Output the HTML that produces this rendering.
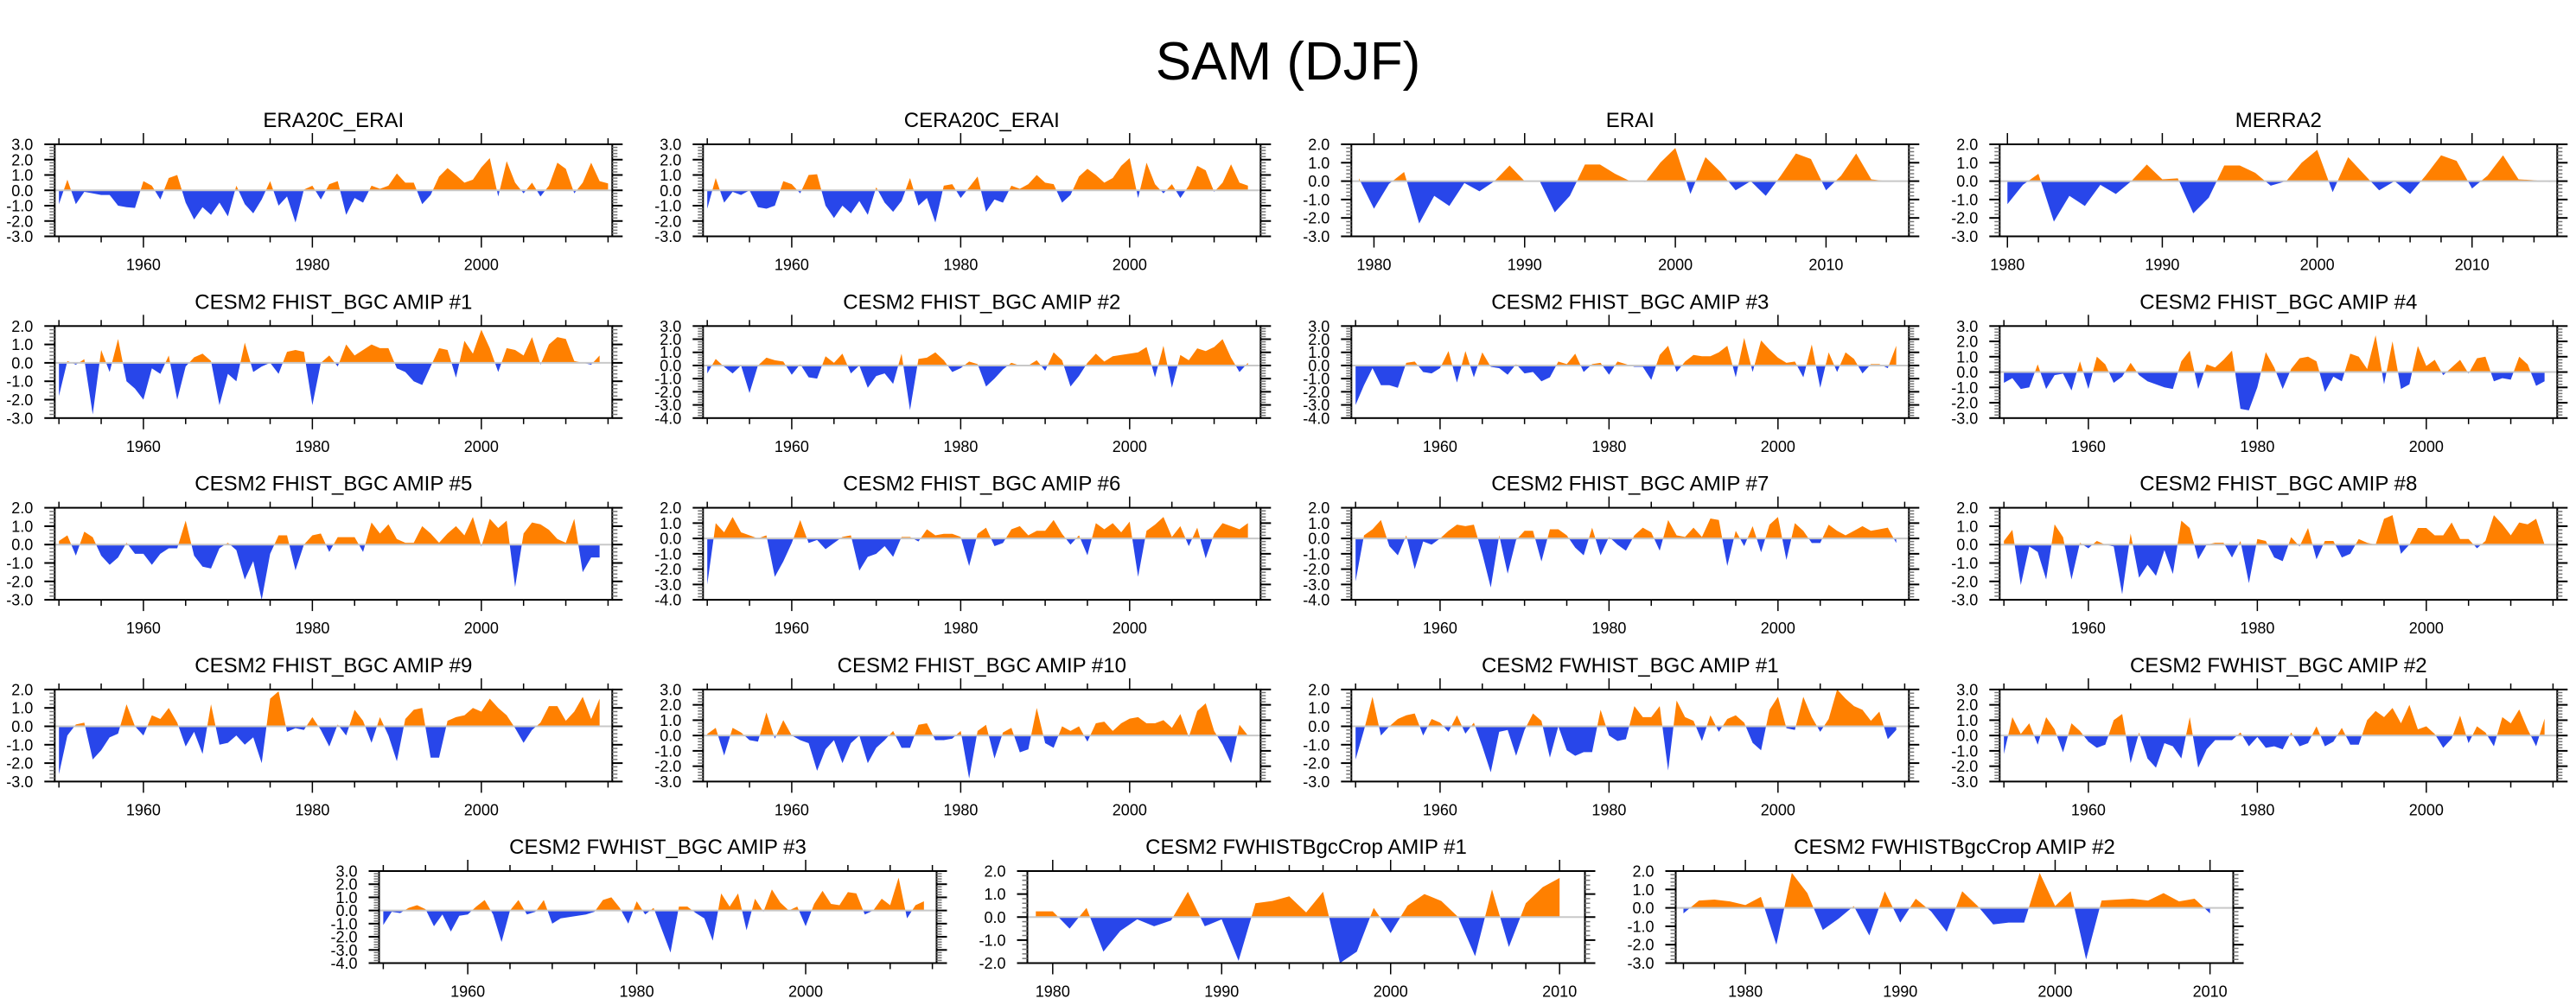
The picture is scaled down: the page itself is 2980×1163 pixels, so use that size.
<!DOCTYPE html>
<html><head><meta charset="utf-8"><title>SAM (DJF)</title>
<style>
html,body{margin:0;padding:0;background:#fff;}
svg{display:block;font-family:"Liberation Sans",Arial,sans-serif;}
</style></head>
<body>
<svg id="chart" width="2980" height="1163" viewBox="0 0 2980 1163" xmlns="http://www.w3.org/2000/svg">
<rect x="0" y="0" width="2980" height="1163" fill="#fff"/>
<text x="1490" y="92" text-anchor="middle" font-size="62">SAM (DJF)</text>
</svg>
<script>
// ---- data (annual DJF SAM index values) ----
const era20cStart = 1950;
const era20cVals = [-0.9,0.7,-0.9,-0.1,-0.2,-0.3,-0.3,-1.0,-1.1,-1.15,0.6,0.3,-0.6,0.8,1.0,-0.8,-1.9,-1.1,-1.6,-0.8,-1.7,0.3,-0.9,-1.5,-0.6,0.6,-1.0,-0.4,-2.1,0.05,0.3,-0.6,0.4,0.6,-1.6,-0.5,-0.8,0.3,0.1,0.3,1.1,0.5,0.5,-0.9,-0.3,0.9,1.45,1.0,0.5,0.7,1.5,2.1,-0.4,1.9,0.5,-0.2,0.5,-0.4,0.3,1.8,1.4,-0.2,0.5,1.8,0.6,0.45];
const cera20cStart = 1950;
const cera20cVals = [-1.2,0.8,-0.8,-0.1,-0.3,0.0,-1.1,-1.2,-1.0,0.6,0.4,-0.2,1.0,1.05,-1.0,-1.8,-1.0,-1.5,-0.7,-1.6,0.2,-0.8,-1.4,-0.7,0.8,-1.0,-0.5,-2.1,0.3,0.4,-0.5,0.2,0.9,-1.4,-0.6,-0.8,0.3,0.1,0.4,1.0,0.5,0.4,-0.8,-0.3,0.9,1.4,1.0,0.5,0.8,1.6,2.1,-0.5,1.8,0.4,-0.2,0.4,-0.5,0.3,1.6,1.3,-0.1,0.5,1.7,0.5,0.3];
const eraiStart = 1979;
const eraiVals = [0.15,-1.5,-0.15,0.5,-2.3,-0.8,-1.35,-0.1,-0.55,0.0,0.85,0.0,0.0,-1.7,-0.8,0.9,0.9,0.4,0.0,-0.05,1.0,1.8,-0.7,1.3,0.5,-0.5,0.0,-0.8,0.3,1.5,1.2,-0.5,0.3,1.5,0.1,0.0];
const merra2Start = 1980;
const merra2Vals = [-1.25,-0.2,0.4,-2.2,-0.8,-1.35,-0.2,-0.7,0.0,0.9,0.1,0.15,-1.75,-0.9,0.85,0.85,0.45,-0.25,0.0,1.0,1.7,-0.6,1.3,0.4,-0.5,0.0,-0.7,0.3,1.4,1.1,-0.4,0.3,1.4,0.1,0.05,-0.05];
const fh1Vals = [-1.8,0.1,-0.1,0.2,-2.8,0.7,-0.5,1.3,-1.0,-1.4,-2.0,-0.3,-0.6,0.4,-2.0,-0.2,0.3,0.5,0.1,-2.3,-0.6,-1.0,1.1,-0.5,-0.2,0.0,-0.6,0.6,0.7,0.6,-2.3,0.0,0.4,-0.2,1.0,0.4,0.7,1.0,0.8,0.8,-0.3,-0.5,-1.0,-1.2,-0.2,0.8,0.7,-0.8,1.2,0.5,1.8,0.8,-0.5,0.8,0.7,0.4,1.4,-0.1,1.0,1.4,1.3,0.1,0.0,-0.1,0.4];
const fh2Vals = [-0.6,0.5,-0.1,-0.6,0.0,-2.1,0.0,0.6,0.4,0.3,-0.7,0.1,-0.9,-1.0,0.7,0.2,0.9,-0.6,0.0,-1.7,-0.8,-0.6,-1.4,0.9,-3.4,0.5,0.6,1.0,0.4,-0.5,-0.2,0.3,0.1,-1.6,-1.0,-0.3,0.2,0.0,0.0,0.4,-0.4,1.0,0.4,-1.6,-0.8,0.2,0.9,0.3,0.7,0.8,0.9,1.0,1.4,-0.9,1.5,-1.7,0.8,0.4,1.3,1.1,1.4,2.0,0.6,-0.5,0.2];
const fh3Vals = [-3.0,-1.5,-0.2,-1.5,-1.5,-1.7,0.2,0.3,-0.5,-0.6,-0.2,1.1,-1.3,1.1,-0.9,1.0,-0.1,-0.2,-0.7,0.1,-0.6,-0.5,-1.2,-0.9,0.3,0.1,0.9,-0.5,0.1,0.2,-0.7,0.3,0.1,-0.1,-0.1,-1.1,0.8,1.5,-0.5,0.3,0.8,0.7,0.7,1.0,1.5,-0.9,2.1,-0.5,1.9,1.2,0.6,0.2,0.3,-0.9,1.6,-1.7,1.0,-0.5,1.0,0.5,-0.6,0.1,0.1,-0.2,1.5];
const fh4Vals = [-0.7,-0.4,-1.1,-1.0,0.5,-1.1,-0.2,-0.1,-1.2,0.7,-1.1,1.0,0.5,-0.7,-0.3,0.6,-0.2,-0.6,-0.8,-1.0,-1.1,0.7,1.4,-1.1,0.5,0.3,0.8,1.4,-2.4,-2.5,-1.0,1.3,0.3,-1.1,0.2,0.9,1.0,0.7,-1.3,-0.3,-0.6,1.2,1.0,0.2,2.4,-0.8,2.0,-1.1,-0.8,1.7,0.4,0.8,-0.2,0.3,0.8,-0.1,0.9,1.0,-0.6,-0.4,-0.5,1.0,0.5,-0.9,-0.6];
const fh5Vals = [0.2,0.5,-0.6,0.7,0.4,-0.6,-1.1,-0.7,0.1,-0.5,-0.5,-1.1,-0.5,-0.2,-0.2,1.3,-0.6,-1.2,-1.3,-0.2,0.1,-0.3,-1.9,-0.9,-3.0,-0.5,0.5,0.5,-1.4,0.0,0.5,0.6,-0.4,0.4,0.4,0.4,-0.4,1.2,0.6,1.1,0.3,0.1,0.1,1.0,0.6,0.1,0.6,1.0,0.5,1.5,-0.1,1.4,0.9,1.3,-2.3,0.6,1.2,1.1,0.8,0.3,0.1,1.4,-1.5,-0.7,-0.7];
const fh6Vals = [-3.0,1.0,0.4,1.4,0.4,0.2,0.0,0.2,-2.5,-1.5,-0.3,1.2,-0.3,-0.1,-0.7,-0.3,0.1,0.2,-2.1,-1.2,-1.0,-0.5,-1.2,0.1,0.1,-0.2,0.6,0.2,0.3,0.3,0.1,-1.8,0.3,0.7,-0.5,-0.3,0.6,0.8,0.2,0.5,0.5,1.2,0.3,-0.4,0.2,-1.1,1.0,0.6,1.0,0.4,1.1,-2.5,0.5,0.9,1.4,0.1,0.8,-0.5,0.7,-1.3,0.3,1.0,0.8,0.6,1.0];
const fh7Vals = [-2.8,0.2,0.6,1.2,-0.5,-1.1,0.2,-2.0,-0.2,-0.4,0.0,0.5,0.9,0.8,0.9,-1.0,-3.2,0.2,-2.3,-0.1,0.5,0.5,-1.5,0.6,0.6,0.2,-0.6,-1.1,0.7,-1.1,0.1,-0.4,-0.8,0.2,0.7,0.4,-0.8,1.2,0.2,0.1,0.7,0.1,1.3,1.2,-1.8,0.5,-0.5,0.8,-0.9,0.9,1.4,-1.4,1.0,0.5,-0.3,-0.3,0.9,0.5,0.2,0.5,0.8,0.5,0.6,0.7,-0.3];
const fh8Vals = [0.2,0.8,-2.2,-0.1,-0.4,-1.9,1.1,0.4,-1.9,0.1,-0.2,0.2,0.0,-0.1,-2.7,0.6,-1.8,-1.1,-1.7,-0.3,-1.6,1.3,0.9,-0.8,0.0,0.1,0.1,-0.7,0.2,-2.1,0.3,0.2,-0.7,-0.9,0.4,-0.1,0.9,-0.8,0.2,0.2,-0.7,-0.5,0.3,0.1,0.0,1.4,1.6,-0.5,0.0,0.9,0.9,0.5,0.5,1.2,0.3,0.3,-0.2,0.2,1.6,1.1,0.5,1.2,1.1,1.4,0.0];
const fh9Vals = [-2.6,-0.5,0.1,0.2,-1.8,-1.3,-0.6,-0.4,1.2,0.0,-0.5,0.6,0.4,1.0,0.2,-1.1,-0.3,-1.5,1.2,-1.0,-0.9,-0.5,-1.0,-0.6,-2.0,1.5,1.9,-0.3,-0.1,-0.2,0.5,-0.2,-1.1,0.1,-0.5,0.9,0.3,-0.9,0.5,-0.5,-1.9,0.4,0.9,1.0,-1.7,-1.7,0.3,0.5,0.6,1.0,0.8,1.5,1.0,0.6,-0.1,-0.9,-0.2,0.2,1.1,1.1,0.3,0.8,1.6,0.4,1.5];
const fh10Vals = [0.1,0.5,-1.3,0.5,0.2,-0.3,-0.4,1.5,-0.2,1.0,0.0,-0.3,-0.5,-2.3,-0.9,-0.3,-1.8,-0.5,0.0,-1.8,-0.8,-0.3,0.3,-0.8,-0.8,0.7,0.8,-0.3,-0.3,-0.2,0.3,-2.8,0.3,0.7,-1.5,0.2,0.5,-1.1,-0.9,1.8,-0.5,-0.8,0.6,0.3,0.6,-0.4,0.8,0.9,0.3,0.8,1.1,1.2,0.8,0.8,1.0,0.5,1.4,-0.1,1.6,2.1,0.3,-0.6,-1.8,0.7,0.0];
const fw1Vals = [-1.8,-0.2,1.6,-0.5,0.0,0.4,0.6,0.7,-0.5,0.4,0.2,-0.3,0.6,-0.4,0.2,-1.1,-2.5,-0.3,-0.2,-1.6,-0.2,0.7,0.3,-1.7,0.0,-1.3,-1.6,-1.4,-1.4,0.9,-0.5,-0.8,-0.7,1.1,0.5,0.5,1.1,-2.4,1.4,0.5,0.3,-0.8,0.6,-0.3,0.4,0.6,0.2,-0.9,-1.3,0.9,1.6,-0.1,-0.2,1.6,0.5,-0.3,0.4,2.0,1.5,1.1,0.9,0.3,0.8,-0.7,-0.2];
const fw2Vals = [-1.2,1.2,0.1,0.8,-0.6,1.2,0.4,-1.1,0.8,0.3,-0.4,-0.8,-0.6,1.0,1.4,-1.8,0.2,-1.5,-2.1,-0.5,-0.7,-1.5,1.2,-2.1,-0.9,-0.3,-0.3,-0.3,0.2,-0.7,-0.1,-0.8,-0.7,-0.9,0.2,-0.7,-0.5,0.6,-0.7,-0.4,0.5,-0.6,-0.6,1.0,1.6,1.2,1.8,0.8,2.0,0.4,0.6,0.1,-0.8,-0.2,1.3,-0.5,0.6,0.2,-0.7,1.2,0.8,1.7,0.4,-0.7,1.1];
const fw3Vals = [-1.1,-0.1,-0.2,0.2,0.4,0.1,-1.2,-0.3,-1.6,-0.4,-0.3,0.3,0.8,-0.3,-2.4,0.0,0.8,-0.3,-0.1,0.8,-1.0,-0.6,-0.5,-0.4,-0.3,-0.1,0.8,1.0,0.2,-1.0,0.7,-0.3,0.2,-1.5,-3.2,0.3,0.3,-0.2,-0.6,-2.3,1.3,0.3,1.3,-1.5,0.9,-0.1,1.6,0.6,0.0,0.3,-1.2,0.5,1.5,0.5,0.4,1.4,1.3,-0.3,0.0,0.9,0.4,2.5,-0.6,0.4,0.7];
const crop1Start = 1979;
const crop1Vals = [0.25,0.25,-0.5,0.4,-1.5,-0.6,-0.1,-0.4,-0.15,1.1,-0.4,-0.1,-1.9,0.6,0.7,0.9,0.2,1.1,-2.0,-1.5,0.4,-0.7,0.5,1.0,0.7,0.0,-1.7,1.2,-1.3,0.6,1.3,1.7];
const crop2Start = 1976;
const crop2Vals = [-0.3,0.4,0.45,0.35,0.15,0.6,-2.0,1.9,0.8,-1.2,-0.6,0.1,-1.5,0.9,-0.8,0.5,-0.2,-1.3,0.9,0.1,-0.9,-0.8,-0.8,1.9,0.1,0.9,-2.8,0.4,0.45,0.5,0.4,0.8,0.35,0.5,-0.3];
const cesmStart = 1950;

const panelTitles = ["ERA20C_ERAI","CERA20C_ERAI","ERAI","MERRA2",
 "CESM2 FHIST_BGC AMIP #1","CESM2 FHIST_BGC AMIP #2","CESM2 FHIST_BGC AMIP #3","CESM2 FHIST_BGC AMIP #4",
 "CESM2 FHIST_BGC AMIP #5","CESM2 FHIST_BGC AMIP #6","CESM2 FHIST_BGC AMIP #7","CESM2 FHIST_BGC AMIP #8",
 "CESM2 FHIST_BGC AMIP #9","CESM2 FHIST_BGC AMIP #10","CESM2 FWHIST_BGC AMIP #1","CESM2 FWHIST_BGC AMIP #2",
 "CESM2 FWHIST_BGC AMIP #3","CESM2 FWHIST Bgc Crop AMIP #1","CESM2 FWHISTBgcCrop AMIP #2"];
panelTitles[17] = "CESM2 FWHISTBgcCrop AMIP #1";
const yMins = [-3,-3,-3,-3, -3,-4,-4,-3, -3,-4,-4,-3, -3,-3,-3,-3, -4,-2,-3];
const yMaxs = [3,3,2,2, 2,3,3,3, 2,2,2,2, 2,3,2,3, 3,2,2];
const seriesList = [era20cVals,cera20cVals,eraiVals,merra2Vals,fh1Vals,fh2Vals,fh3Vals,fh4Vals,fh5Vals,fh6Vals,fh7Vals,fh8Vals,fh9Vals,fh10Vals,fw1Vals,fw2Vals,fw3Vals,crop1Vals,crop2Vals];
const startYears = [era20cStart,cera20cStart,eraiStart,merra2Start,cesmStart,cesmStart,cesmStart,cesmStart,cesmStart,cesmStart,cesmStart,cesmStart,cesmStart,cesmStart,cesmStart,cesmStart,cesmStart,crop1Start,crop2Start];
const xMins = [1949.5,1949.5,1978.5,1979.5, 1949.5,1949.5,1949.5,1949.5, 1949.5,1949.5,1949.5,1949.5, 1949.5,1949.5,1949.5,1949.5, 1949.5,1978.5,1975.5];
const xMaxs = [2015.5,2015.5,2015.5,2015.5, 2015.5,2015.5,2015.5,2015.5, 2015.5,2015.5,2015.5,2015.5, 2015.5,2015.5,2015.5,2015.5, 2015.5,2011.5,2011.5];

// ---- layout ----
const NS = "http://www.w3.org/2000/svg";
const svg = document.getElementById('chart');
const W = 645, H = 106.5;
function boxPos(i){
  if (i < 16) return {x: 63.3 + (i%4)*750, y: 167 + Math.floor(i/4)*210.3};
  return {x: 438.5 + (i-16)*750, y: 1008};
}
function mk(tag, attrs, parent){
  const e = document.createElementNS(NS, tag);
  for (const k in attrs) e.setAttribute(k, attrs[k]);
  (parent||svg).appendChild(e);
  return e;
}
const ORANGE = "#ff8000", BLUE = "#2846ea";

seriesList.forEach((vals, i) => {
  const p = boxPos(i);
  const x0 = xMins[i], x1 = xMaxs[i], y0 = yMins[i], y1 = yMaxs[i];
  const sx = v => p.x + (v - x0) / (x1 - x0) * W;
  const sy = v => p.y + (y1 - v) / (y1 - y0) * H;
  const g = mk('g', {});
  
  

  const t = mk('text', {x: p.x + W/2, y: p.y - 20, 'text-anchor':'middle', 'font-size':'24'}, g);
  
  
  t.textContent = panelTitles[i];

  // clip paths
  const zy = sy(0);
  const defs = mk('defs', {}, g);
  const cpA = mk('clipPath', {id: 'above'+i}, defs);
  mk('rect', {x: p.x, y: p.y, width: W, height: zy - p.y}, cpA);
  const cpB = mk('clipPath', {id: 'below'+i}, defs);
  mk('rect', {x: p.x, y: zy, width: W, height: p.y + H - zy}, cpB);

  const start = startYears[i];
  let d = 'M' + sx(start) + ',' + zy;
  vals.forEach((v, k) => { d += ' L' + sx(start + k) + ',' + sy(v); });
  d += ' L' + sx(start + vals.length - 1) + ',' + zy + ' Z';
  const pa = mk('path', {d: d, fill: ORANGE, 'clip-path': 'url(#above'+i+')'}, g);
  
  
  const pb = mk('path', {d: d, fill: BLUE, 'clip-path': 'url(#below'+i+')'}, g);
  
  

  const zl = mk('line', {x1: p.x, x2: p.x + W, y1: zy, y2: zy, stroke:'#c8c8c8', 'stroke-width':'2'}, g);
  
  

  const box = mk('rect', {x: p.x, y: p.y, width: W, height: H, fill:'none', stroke:'#000', 'stroke-width':'2'}, g);
  
  

  // y ticks
  for (let v = y0; v <= y1 + 1e-6; v += 0.2) {
    const vv = Math.round(v*10)/10;
    const major = Math.abs(vv - Math.round(vv)) < 1e-6;
    const y = sy(vv);
    const L = major ? 12 : 6;
    const col = major ? '#000' : '#777';
    mk('line', {x1: p.x - L, x2: p.x, y1: y, y2: y, stroke: col, 'stroke-width': major?2:1.5}, g);
    mk('line', {x1: p.x + W, x2: p.x + W + L, y1: y, y2: y, stroke: col, 'stroke-width': major?2:1.5}, g);
    if (major) {
      const lb = mk('text', {x: p.x - 25, y: y + 6.5, 'text-anchor':'end', 'font-size':'18'}, g);
      
      
      lb.textContent = vv.toFixed(1);
    }
  }
  // x ticks
  const longAxis = (x1 - x0) > 50;
  const step = longAxis ? 5 : 2;
  const labStep = longAxis ? 20 : 10;
  for (let yr = Math.ceil(x0/step)*step; yr <= x1; yr += step) {
    const x = sx(yr);
    const major = yr % labStep === 0;
    const L = major ? 13 : 7;
    mk('line', {x1: x, x2: x, y1: p.y + H, y2: p.y + H + L, stroke:'#000', 'stroke-width':'1.5'}, g);
    mk('line', {x1: x, x2: x, y1: p.y - L, y2: p.y, stroke:'#000', 'stroke-width':'1.5'}, g);
    if (major) {
      const lb = mk('text', {x: x, y: p.y + H + 39, 'text-anchor':'middle', 'font-size':'18'}, g);
      
      
      lb.textContent = yr;
    }
  }
});
</script>
</body></html>
